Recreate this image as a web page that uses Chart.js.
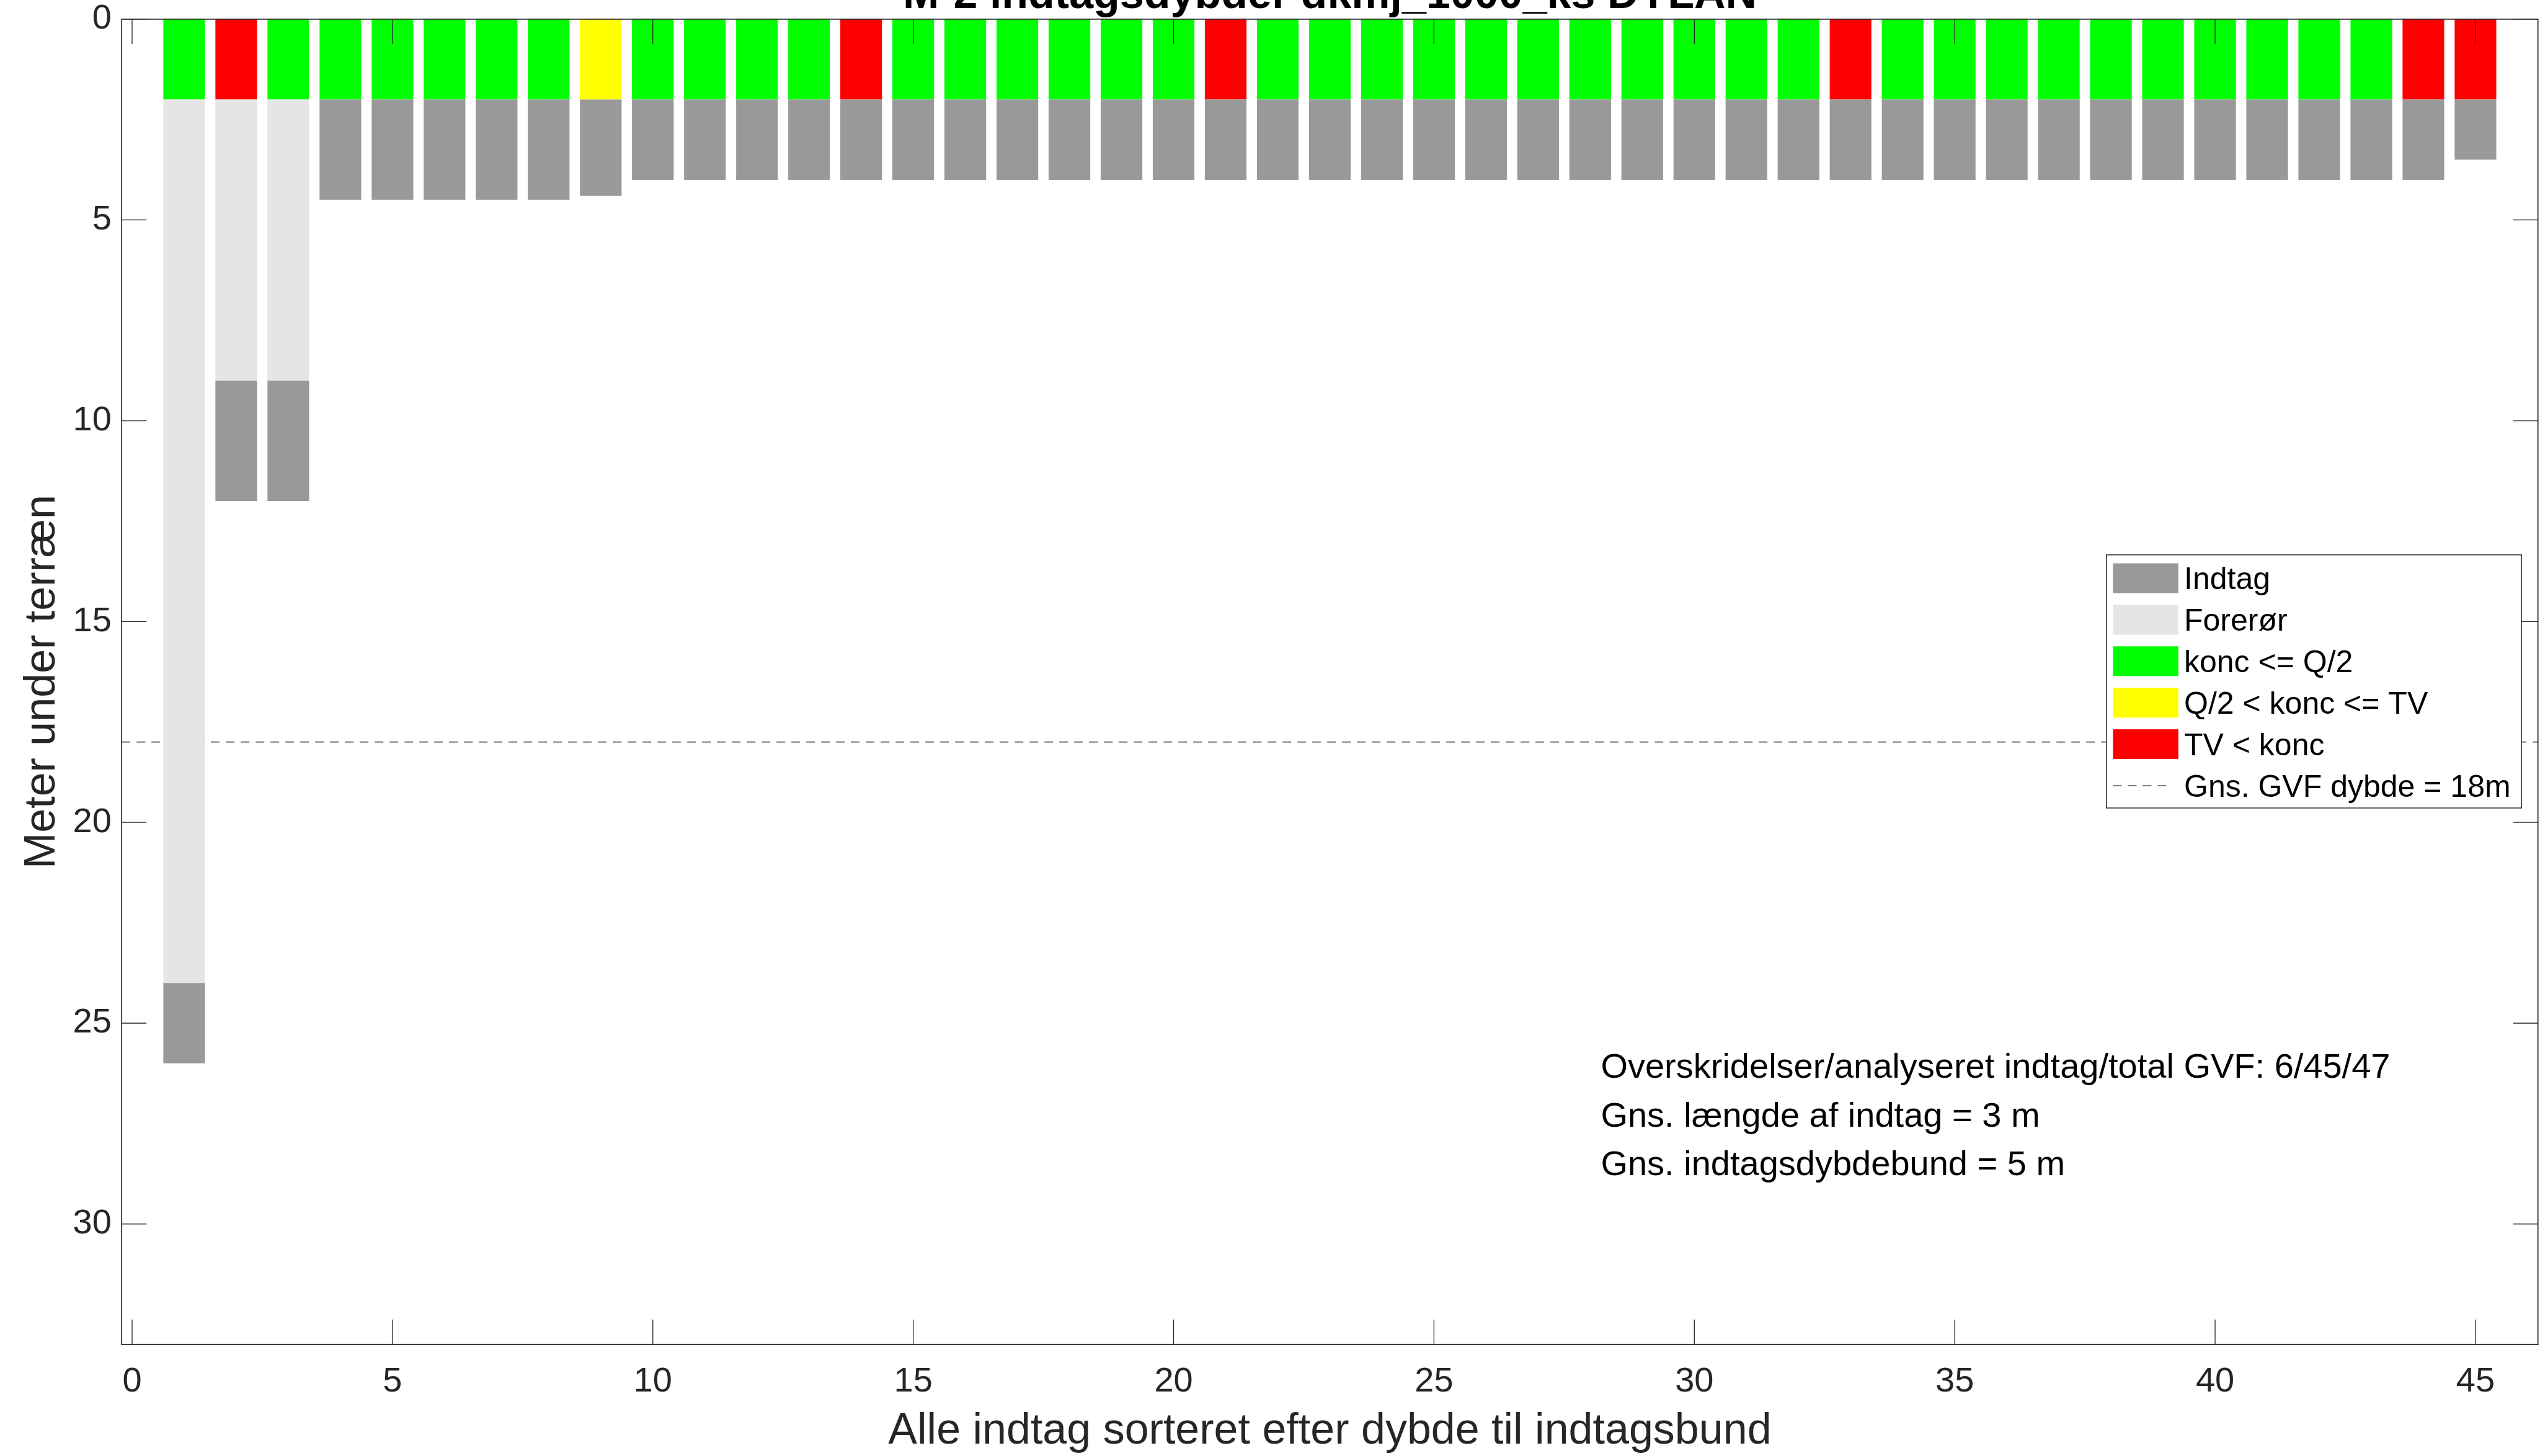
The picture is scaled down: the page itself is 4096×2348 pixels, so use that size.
<!DOCTYPE html>
<html>
<head>
<meta charset="utf-8">
<script src="https://cdn.jsdelivr.net/npm/chart.js@4/dist/chart.umd.min.js"></script>
<style>
  html, body { margin: 0; padding: 0; background: #ffffff; overflow: hidden; }
  canvas { display: block; }
</style>
</head>
<body>
<canvas id="chart" width="4096" height="2348"></canvas>
<script>
// Wells, sorted by depth to intake bottom
const wells = [1, 2, 3, 4, 5, 6, 7, 8, 9, 10, 11, 12, 13, 14, 15, 16, 17, 18, 19, 20, 21, 22, 23,
  24, 25, 26, 27, 28, 29, 30, 31, 32, 33, 34, 35, 36, 37, 38, 39, 40, 41, 42, 43, 44, 45];

// Concentration class per well: G = konc <= Q/2, Y = Q/2 < konc <= TV, R = TV < konc
const koncClass = ['G', 'R', 'G', 'G', 'G', 'G', 'G', 'G', 'Y', 'G', 'G', 'G', 'G', 'R', 'G', 'G', 'G',
  'G', 'G', 'G', 'R', 'G', 'G', 'G', 'G', 'G', 'G', 'G', 'G', 'G', 'G', 'G', 'R', 'G', 'G', 'G', 'G',
  'G', 'G', 'G', 'G', 'G', 'G', 'R', 'R'];

// Status marker segment (m below terrain)
const statusTop = [0, 0, 0, 0, 0, 0, 0, 0, 0, 0, 0, 0, 0, 0, 0, 0, 0, 0, 0, 0, 0, 0, 0, 0, 0, 0, 0, 0,
  0, 0, 0, 0, 0, 0, 0, 0, 0, 0, 0, 0, 0, 0, 0, 0, 0];
const statusBottom = [2, 2, 2, 2, 2, 2, 2, 2, 2, 2, 2, 2, 2, 2, 2, 2, 2, 2, 2, 2, 2, 2, 2, 2, 2, 2, 2, 2,
  2, 2, 2, 2, 2, 2, 2, 2, 2, 2, 2, 2, 2, 2, 2, 2, 2];

// Casing (forerør) interval
const forerorTop = [2, 2, 2, null, null, null, null, null, null, null, null, null, null, null, null,
  null, null, null, null, null, null, null, null, null, null, null, null, null, null, null, null, null,
  null, null, null, null, null, null, null, null, null, null, null, null, null];
const forerorBottom = [24, 9, 9, null, null, null, null, null, null, null, null, null, null, null, null,
  null, null, null, null, null, null, null, null, null, null, null, null, null, null, null, null, null,
  null, null, null, null, null, null, null, null, null, null, null, null, null];

// Screen (indtag) interval
const indtagTop = [24, 9, 9, 2, 2, 2, 2, 2, 2, 2, 2, 2, 2, 2, 2, 2, 2, 2, 2, 2, 2, 2, 2, 2, 2, 2, 2, 2,
  2, 2, 2, 2, 2, 2, 2, 2, 2, 2, 2, 2, 2, 2, 2, 2, 2];
const indtagBottom = [26, 12, 12, 4.5, 4.5, 4.5, 4.5, 4.5, 4.4, 4, 4, 4, 4, 4, 4, 4, 4, 4, 4, 4, 4, 4, 4,
  4, 4, 4, 4, 4, 4, 4, 4, 4, 4, 4, 4, 4, 4, 4, 4, 4, 4, 4, 4, 4, 3.5];

// Mean depth of all GVF wells (m)
const gvfMeanDepth = 18;

// Axis ticks and limits
const xTicks = [0, 5, 10, 15, 20, 25, 30, 35, 40, 45];
const yTicks = [0, 5, 10, 15, 20, 25, 30];
const xLimits = [-0.2, 46.2];
const yLimits = [0, 33];

const titleText = 'M-2 indtagsdybder dkmj_1000_ks DYLAN';
const xTitle = 'Alle indtag sorteret efter dybde til indtagsbund';
const yTitle = 'Meter under terræn';
const notes = [
  'Overskridelser/analyseret indtag/total GVF: 6/45/47',
  'Gns. længde af indtag = 3 m',
  'Gns. indtagsdybdebund = 5 m'
];

const FONT = '"Liberation Sans", Arial, Helvetica, sans-serif';
const AXIS_COLOR = '#262626';
const DASH = [14, 10];

function intervals(tops, bottoms, keep) {
  const out = [];
  wells.forEach((w, i) => {
    if (tops[i] !== null && bottoms[i] !== null && (!keep || keep(i))) {
      out.push({ x: w, y: [tops[i], bottoms[i]] });
    }
  });
  return out;
}

const barStyle = {
  type: 'bar',
  grouped: false,
  barPercentage: 0.8,
  categoryPercentage: 1.0,
  borderWidth: 0,
  borderSkipped: false
};

const datasets = [
  Object.assign({ label: 'Indtag', backgroundColor: '#999999',
    data: intervals(indtagTop, indtagBottom) }, barStyle),
  Object.assign({ label: 'Forerør', backgroundColor: '#e5e5e5',
    data: intervals(forerorTop, forerorBottom) }, barStyle),
  Object.assign({ label: 'konc <= Q/2', backgroundColor: '#00ff00',
    data: intervals(statusTop, statusBottom, i => koncClass[i] === 'G') }, barStyle),
  Object.assign({ label: 'Q/2 < konc <= TV', backgroundColor: '#ffff00',
    data: intervals(statusTop, statusBottom, i => koncClass[i] === 'Y') }, barStyle),
  Object.assign({ label: 'TV < konc', backgroundColor: '#ff0000',
    data: intervals(statusTop, statusBottom, i => koncClass[i] === 'R') }, barStyle),
  {
    type: 'line',
    label: 'Gns. GVF dybde = ' + gvfMeanDepth + 'm',
    data: [{ x: xLimits[0], y: gvfMeanDepth }, { x: xLimits[1], y: gvfMeanDepth }],
    borderColor: '#555555',
    borderWidth: 1.6,
    borderDash: DASH,
    pointRadius: 0,
    fill: false
  }
];

// Axes box, inward ticks, legend, titles and summary text
const decorations = {
  id: 'decorations',
  afterDatasetsDraw(chart) {
    const { ctx, chartArea: a, scales: { x, y } } = chart;
    ctx.save();

    // inward tick marks on all four sides
    const tl = 40;
    ctx.strokeStyle = AXIS_COLOR;
    ctx.lineWidth = 1.3;
    ctx.beginPath();
    xTicks.forEach(v => {
      const p = x.getPixelForValue(v);
      ctx.moveTo(p, a.bottom); ctx.lineTo(p, a.bottom - tl);
      ctx.moveTo(p, a.top); ctx.lineTo(p, a.top + tl);
    });
    yTicks.forEach(v => {
      const p = y.getPixelForValue(v);
      ctx.moveTo(a.left, p); ctx.lineTo(a.left + tl, p);
      ctx.moveTo(a.right, p); ctx.lineTo(a.right - tl, p);
    });
    ctx.stroke();

    // axes box
    ctx.lineWidth = 1.7;
    ctx.strokeRect(a.left, a.top, a.right - a.left, a.bottom - a.top);

    // legend
    const lg = { left: 3396.7, top: 894.8, right: 4066.2, bottom: 1303 };
    ctx.fillStyle = '#ffffff';
    ctx.fillRect(lg.left, lg.top, lg.right - lg.left, lg.bottom - lg.top);
    ctx.lineWidth = 1.4;
    ctx.strokeStyle = AXIS_COLOR;
    ctx.strokeRect(lg.left, lg.top, lg.right - lg.left, lg.bottom - lg.top);
    const rowY0 = 932.5, rowStep = 66.9;
    const swL = 3407.4, swR = 3512.8, swH = 48;
    ctx.font = '50px ' + FONT;
    ctx.textAlign = 'left';
    ctx.textBaseline = 'middle';
    chart.data.datasets.forEach((ds, i) => {
      const cy = rowY0 + i * rowStep;
      if (ds.type === 'line') {
        ctx.save();
        ctx.strokeStyle = ds.borderColor;
        ctx.lineWidth = ds.borderWidth;
        ctx.setLineDash(DASH);
        ctx.beginPath();
        ctx.moveTo(swL, cy); ctx.lineTo(3502, cy);
        ctx.stroke();
        ctx.restore();
      } else {
        ctx.fillStyle = ds.backgroundColor;
        ctx.fillRect(swL, cy - swH / 2, swR - swL, swH);
      }
      ctx.fillStyle = '#000000';
      ctx.fillText(ds.label, 3522, cy + 4);
    });

    // summary text
    ctx.font = '56px ' + FONT;
    ctx.textBaseline = 'alphabetic';
    ctx.fillStyle = '#000000';
    const noteY = [1738.2, 1816.5, 1895.3];
    notes.forEach((t, i) => ctx.fillText(t, 2581.4, noteY[i]));

    // axis titles
    const cx = (a.left + a.right) / 2;
    const cyPlot = (a.top + a.bottom) / 2;
    ctx.fillStyle = AXIS_COLOR;
    ctx.font = '70px ' + FONT;
    ctx.textAlign = 'center';
    ctx.fillText(xTitle, cx, 2328);
    ctx.save();
    ctx.translate(88.3, cyPlot);
    ctx.rotate(-Math.PI / 2);
    ctx.fillText(yTitle, 0, 0);
    ctx.restore();

    // chart title
    ctx.fillStyle = '#000000';
    ctx.font = 'bold 70px ' + FONT;
    ctx.fillText(titleText, cx, 12.6);

    ctx.restore();
  }
};

function fixBox(size, horizontal) {
  return function (scale) {
    if (horizontal) { scale.height = size; } else { scale.width = size; }
    scale.paddingLeft = 0; scale.paddingRight = 0;
    scale.paddingTop = 0; scale.paddingBottom = 0;
  };
}

new Chart(document.getElementById('chart'), {
  data: { datasets },
  options: {
    responsive: false,
    devicePixelRatio: 1,
    animation: false,
    events: [],
    layout: { padding: { left: 0, right: 3.3, top: 30.9, bottom: 0 } },
    plugins: { legend: { display: false }, tooltip: { enabled: false }, title: { display: false } },
    scales: {
      x: {
        type: 'linear',
        position: 'bottom',
        offset: false,
        min: xLimits[0],
        max: xLimits[1],
        afterBuildTicks: s => { s.ticks = xTicks.map(v => ({ value: v })); },
        afterFit: fixBox(179.9, true),
        grid: { display: false, drawTicks: false, tickLength: 0, offset: false },
        border: { display: false },
        ticks: {
          padding: 27,
          maxRotation: 0,
          autoSkip: false,
          color: AXIS_COLOR,
          font: { family: FONT, size: 56 }
        }
      },
      y: {
        type: 'linear',
        position: 'left',
        reverse: true,
        min: yLimits[0],
        max: yLimits[1],
        afterBuildTicks: s => { s.ticks = yTicks.map(v => ({ value: v })); },
        afterFit: fixBox(196.2, false),
        grid: { display: false, drawTicks: false, tickLength: 0 },
        border: { display: false },
        ticks: {
          padding: 16.4,
          autoSkip: false,
          color: AXIS_COLOR,
          font: { family: FONT, size: 56 }
        }
      }
    }
  },
  plugins: [decorations]
});
</script>
</body>
</html>
